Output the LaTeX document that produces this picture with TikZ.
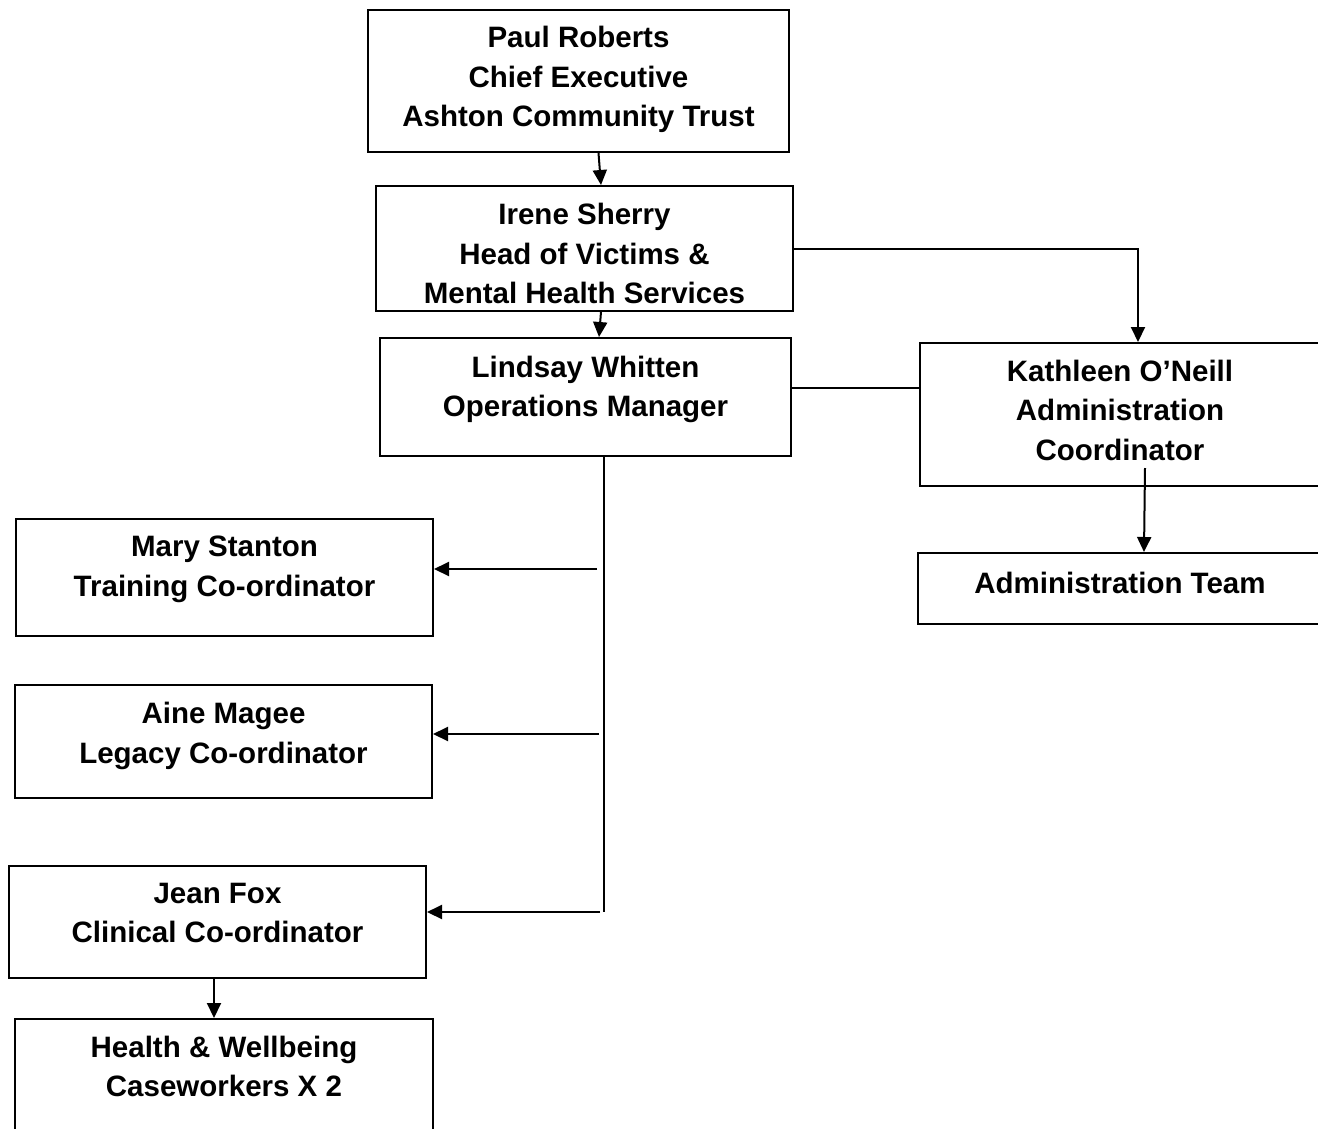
\documentclass[tikz,border=0pt]{standalone}
\usepackage{fontspec}
\setmainfont{Liberation Sans}
\usetikzlibrary{arrows.meta,positioning}
\tikzset{
    %Define standard arrow tip
    >={Triangle[length=15pt,width=14pt]},
    %Define style for boxes
    orgbox/.style={
           rectangle,
           draw=black, line width=2pt,
           inner sep=0pt},
    %Define style for box texts
    orgtext/.style={
           align=center,
           font=\bfseries\fontsize{29.5}{39.5}\selectfont},
    % Define arrow style
    pil/.style={
           ->,
           line width=2pt},
    link/.style={
           line width=2pt}
}

\begin{document}
\begin{tikzpicture}[x=1pt,y=-1pt]
\clip (0,0) rectangle (1318,1128);

 %boxes
\node[orgbox, minimum width=421pt, minimum height=142pt,
      label={[orgtext,yshift=1.5pt]center:{Paul Roberts\\Chief Executive\\Ashton Community Trust}}]
      (paul) at (578.5,81) {};
\node[orgbox, minimum width=417pt, minimum height=125pt,
      label={[orgtext,yshift=-5pt]center:{Irene Sherry\\Head of Victims \&\\Mental Health Services}}]
      (irene) at (584.5,248.5) {};
\node[orgbox, minimum width=411pt, minimum height=118pt,
      label={[orgtext,yshift=7.5pt]center:{Lindsay Whitten\\Operations Manager}}]
      (lindsay) at (585.5,397) {};
\node[orgbox, minimum width=410pt, minimum height=143pt,
      label={[orgtext,yshift=4.5pt,xshift=-5pt]center:{Kathleen O’Neill\\Administration\\Coordinator}}]
      (kathleen) at (1125,414.5) {};
\node[orgbox, minimum width=412pt, minimum height=71pt,
      label={[orgtext,yshift=6pt,xshift=-4pt]center:{Administration Team}}]
      (admin) at (1124,588.5) {};
\node[orgbox, minimum width=417pt, minimum height=117pt,
      label={[orgtext,yshift=8pt]center:{Mary Stanton\\Training Co-ordinator}}]
      (mary) at (224.5,577.5) {};
\node[orgbox, minimum width=417pt, minimum height=113pt,
      label={[orgtext,yshift=5.5pt]center:{Aine Magee\\Legacy Co-ordinator}}]
      (aine) at (223.5,741.5) {};
\node[orgbox, minimum width=417pt, minimum height=112pt,
      label={[orgtext,yshift=9pt]center:{Jean Fox\\Clinical Co-ordinator}}]
      (jean) at (217.5,922) {};
\node[orgbox, minimum width=418pt, minimum height=121pt,
      label={[orgtext,yshift=13pt]center:{Health \& Wellbeing\\Caseworkers X 2}}]
      (health) at (224,1079.5) {};

 %free ends
\coordinate (trunk) at (604,912);
\coordinate (l1) at (791,388);
\coordinate (m1) at (597,569);
\coordinate (a1) at (599,734);
\coordinate (j1) at (600,912);

 %connectors
\draw[pil] ([xshift=20pt]paul.south) -- ([xshift=16.5pt]irene.north);
\draw[pil] ([xshift=16.5pt]irene.south) -- ([xshift=13.5pt]lindsay.north);
\draw[pil] (irene.east) -| ([xshift=13pt]kathleen.north);
\draw[link] (l1) -- (kathleen.west |- l1);
\draw[pil] ([xshift=20pt,yshift=19pt]kathleen.south) -- ([xshift=20pt]admin.north);
\draw[link] ([xshift=18.5pt]lindsay.south) -- (trunk);
\draw[pil] (m1) -- (mary.east |- m1);
\draw[pil] (a1) -- (aine.east |- a1);
\draw[pil] (j1) -- (jean.east |- j1);
\draw[pil] ([xshift=-3.5pt]jean.south) -- ([xshift=-10pt]health.north);
\end{tikzpicture}
\end{document}
